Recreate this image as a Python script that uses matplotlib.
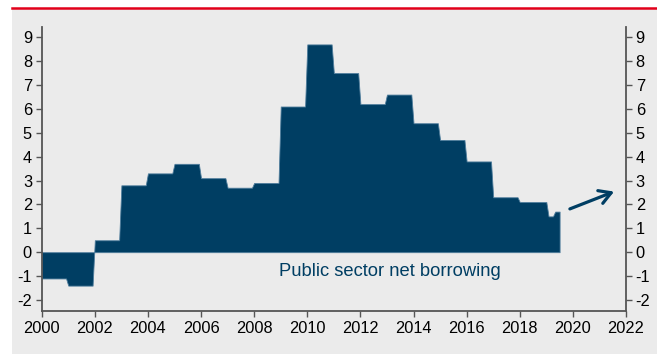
import numpy as np
import matplotlib
matplotlib.use("Agg")
import matplotlib.pyplot as plt
from matplotlib.patches import Rectangle
from matplotlib.lines import Line2D

# Public sector net borrowing, % of GDP, one value per year (monthly series repeats it)
Anios = list(range(2000, 2019))
Valores = [-1.1, -1.4, 0.5, 2.8, 3.3, 3.7, 3.1, 2.7, 2.9, 6.1,
           8.7, 7.5, 6.2, 6.6, 5.4, 4.7, 3.8, 2.3, 2.1]
# 2019 so far, month by month
Meses2019 = [2.1, 1.5, 1.5, 1.5, 1.7, 1.7, 1.7]

TicksY = list(range(-2, 10))
TicksX = list(range(2000, 2023, 2))
Etiqueta = "Public sector net borrowing"

Azul = "#003e63"
Rojo = "#e2001a"
Fondo = "#ebebeb"

plt.rcParams["font.family"] = ["Liberation Sans", "DejaVu Sans"]
plt.rcParams["axes.unicode_minus"] = False

# serie mensual
serie = np.concatenate([np.repeat(Valores, 12), Meses2019])
x = Anios[0] + np.arange(len(serie)) / 12.0

fig = plt.figure(figsize=(6.57, 3.54), dpi=100)
fig.patch.set_facecolor("white")
# panel gris y linea roja de cabecera
fig.patches.append(Rectangle((12 / 657, 0), 1, 1 - 9 / 354, transform=fig.transFigure,
                             facecolor=Fondo, edgecolor="none", zorder=-5))
fig.lines.append(Line2D([12 / 657, 1], [1 - 7.8 / 354] * 2, transform=fig.transFigure,
                        color=Rojo, linewidth=1.8, zorder=-4))

ax = fig.add_axes([41.7 / 657, 1 - 310.7 / 354, (626 - 41.7) / 657, (310.7 - 26.5) / 354])
ax.set_zorder(2)
ax.set_facecolor("none")

ax.fill_between(x, serie, 0, color=Azul, linewidth=0.6, edgecolor="#4f7d9c")

ax.set_xlim(2000, 2022)
ax.set_ylim(-2.45, 9.45)
ax.set_xticks(TicksX)
ax.set_yticks(TicksY)

ax.spines["top"].set_visible(False)
for lado in ["left", "right", "bottom"]:
    ax.spines[lado].set_color("#555555")
    ax.spines[lado].set_linewidth(1.3)

ax.tick_params(axis="both", direction="out", length=4, width=1, color="#555555",
               labelsize=11.8, labelcolor="black")
ax.tick_params(axis="y", right=True, labelright=True, pad=3)

ax.text(2013.12, -0.82, Etiqueta, ha="center", va="center", fontsize=13.2, color=Azul)
ax.annotate("", xy=(2021.65, 2.58), xytext=(2019.79, 1.77),
            arrowprops=dict(arrowstyle="->,head_length=0.6,head_width=0.35",
                            color=Azul, lw=2.3, mutation_scale=14))

fig.savefig("out.png", dpi=100)
